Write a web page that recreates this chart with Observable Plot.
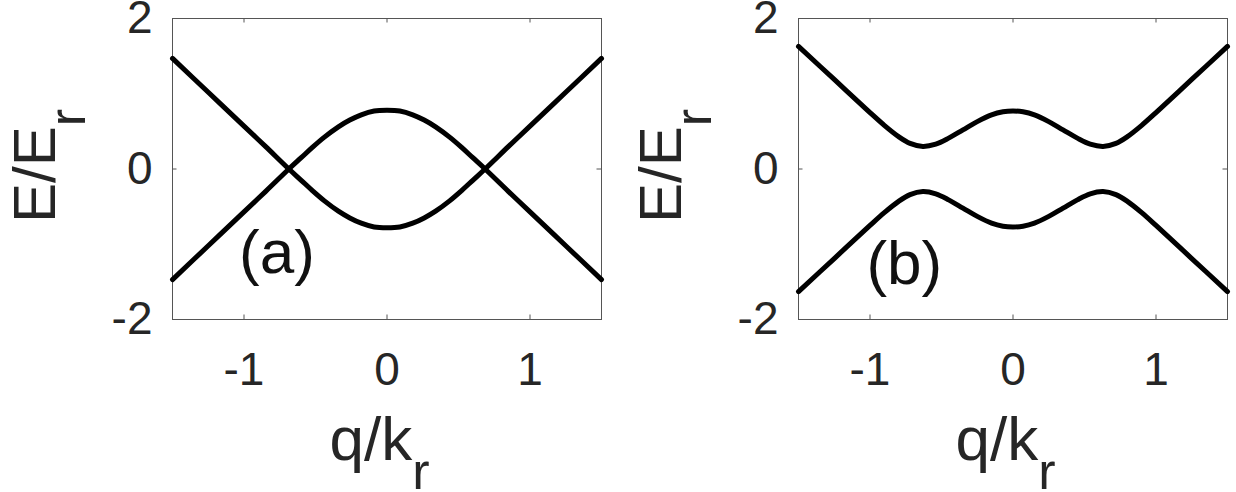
<!DOCTYPE html>
<html>
<head>
<meta charset="utf-8">
<script src="https://cdn.jsdelivr.net/npm/d3@7"></script>
<script src="https://cdn.jsdelivr.net/npm/@observablehq/plot@0.6"></script>
<style>
  html, body { margin: 0; padding: 0; background: #ffffff; }
  #wrap { display: flex; width: 1236px; height: 492px; }
  svg { display: block; }
</style>
</head>
<body>
<div id="wrap"></div>
<script>
// ---- data ----
const xTicks = [-1, 0, 1];
const yTicks = [-2, 0, 2];

// panel (a)
const qA = [-1.5, -1.25, -1.0, -0.85, -0.686, -0.6, -0.52, -0.44, -0.34, -0.26, -0.18, -0.09, 0,
            0.09, 0.18, 0.26, 0.34, 0.44, 0.52, 0.6, 0.686, 0.85, 1.0, 1.25, 1.5];
const bandA1 = [1.47, 1.02, 0.57, 0.30, 0.0, -0.15, -0.29, -0.42, -0.56, -0.65, -0.72, -0.77, -0.78,
                -0.77, -0.72, -0.65, -0.56, -0.42, -0.29, -0.15, 0.0, 0.30, 0.57, 1.02, 1.47];
const bandA2 = [-1.47, -1.02, -0.57, -0.30, 0.0, 0.15, 0.29, 0.42, 0.56, 0.65, 0.72, 0.77, 0.78,
                0.77, 0.72, 0.65, 0.56, 0.42, 0.29, 0.15, 0.0, -0.30, -0.57, -1.02, -1.47];

// panel (b)
const qB = [-1.5, -1.25, -1.0, -0.9, -0.8, -0.72, -0.63, -0.54, -0.45, -0.35, -0.25, -0.15, -0.07, 0,
            0.07, 0.15, 0.25, 0.35, 0.45, 0.54, 0.63, 0.72, 0.8, 0.9, 1.0, 1.25, 1.5];
const bandB1 = [1.63, 1.19, 0.75, 0.58, 0.43, 0.34, 0.30, 0.33, 0.41, 0.52, 0.63, 0.72, 0.76, 0.77,
                0.76, 0.72, 0.63, 0.52, 0.41, 0.33, 0.30, 0.34, 0.43, 0.58, 0.75, 1.19, 1.63];
const bandB2 = [-1.63, -1.19, -0.75, -0.58, -0.43, -0.34, -0.30, -0.33, -0.41, -0.52, -0.63, -0.72, -0.76, -0.77,
                -0.76, -0.72, -0.63, -0.52, -0.41, -0.33, -0.30, -0.34, -0.43, -0.58, -0.75, -1.19, -1.63];

const panelNames = ["(a)", "(b)"];
const panelLabelQ = [-0.77, -0.76];
const panelLabelE = [-1.12, -1.26];

const xLabelMain = "q/k", xLabelSub = "r";
const yLabelMain = "E/E", yLabelSub = "r";

// ---- build ----
function rows(q, bands) {
  const out = [];
  bands.forEach((b, bi) => q.forEach((v, i) => out.push({q: v, E: b[i], band: bi})));
  return out;
}

const FONT = "Liberation Sans, Arial, Helvetica, sans-serif";
const W = 618, H = 492, MT = 18, MB = 173;
const plotH = H - MT - MB;

function panel(data, idx, ml, mr) {
  const plotW = W - ml - mr;
  const tickLen = 4.5;
  const frameColor = "#555555";
  const svg = Plot.plot({
    width: W, height: H,
    marginLeft: ml, marginRight: mr, marginTop: MT, marginBottom: MB,
    x: {domain: [-1.5, 1.5]},
    y: {domain: [-2, 2]},
    style: {fontFamily: FONT, background: "#ffffff", overflow: "visible"},
    marks: [
      Plot.frame({stroke: frameColor, strokeWidth: 1}),
      Plot.tickX(xTicks, {x: d => d, insetTop: plotH - tickLen, stroke: frameColor}),
      Plot.tickX(xTicks, {x: d => d, insetBottom: plotH - tickLen, stroke: frameColor}),
      Plot.tickY(yTicks, {y: d => d, insetRight: plotW - tickLen, stroke: frameColor}),
      Plot.tickY(yTicks, {y: d => d, insetLeft: plotW - tickLen, stroke: frameColor}),
      Plot.axisX(xTicks, {tickSize: 0, tickPadding: 33, fontSize: 46, color: "#262626",
                          tickFormat: d => String(d), label: null}),
      Plot.axisY(yTicks, {tickSize: 0, tickPadding: 20, fontSize: 46, color: "#262626",
                          tickFormat: d => String(d), label: null}),
      Plot.line(data, {x: "q", y: "E", z: "band", stroke: "#000000", strokeWidth: 5,
                       curve: "catmull-rom"}),
      Plot.text([panelNames[idx]], {x: () => panelLabelQ[idx], y: () => panelLabelE[idx],
                 text: d => d, fontSize: 62, fill: "#111111", textAnchor: "middle",
                 lineAnchor: "middle"})
    ]
  });
  const s = d3.select(svg);
  // x-axis label with subscript
  const cx = ml + plotW / 2;
  const xt = s.append("text")
    .attr("x", cx - 57).attr("y", 460).attr("text-anchor", "start")
    .attr("font-family", FONT).attr("font-size", 62).attr("fill", "#262626");
  xt.append("tspan").text(xLabelMain);
  xt.append("tspan").attr("font-size", 52).attr("dy", 29).text(xLabelSub);
  // y-axis label with subscript
  const yt = s.append("text")
    .attr("transform", `translate(${ml - 117},223) rotate(-90)`).attr("text-anchor", "start")
    .attr("font-family", FONT).attr("font-size", 60).attr("fill", "#262626");
  yt.append("tspan").text(yLabelMain);
  yt.append("tspan").attr("font-size", 52).attr("dy", 30).text(yLabelSub);
  return svg;
}

const wrap = document.getElementById("wrap");
wrap.appendChild(panel(rows(qA, [bandA1, bandA2]), 0, 172, 17));
wrap.appendChild(panel(rows(qB, [bandB1, bandB2]), 1, 180, 9));
</script>
</body>
</html>
